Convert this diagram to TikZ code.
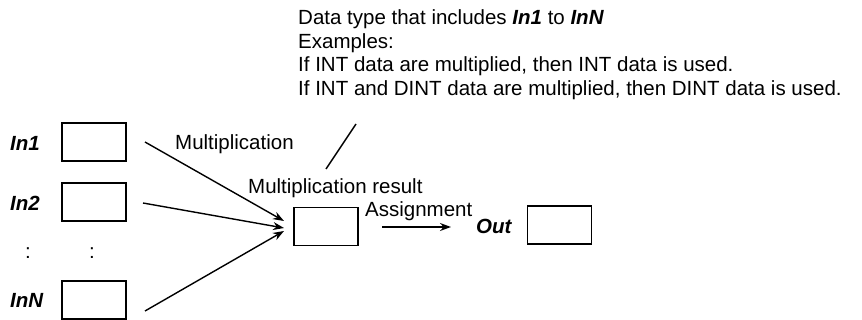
\documentclass[tikz,border=0pt]{standalone}
\usepackage{fontspec}
\setmainfont{Liberation Sans}
\usetikzlibrary{arrows.meta}
\begin{document}
\begin{tikzpicture}[x=1pt,y=-1pt,
  box/.style={draw,line width=1.2pt,minimum width=64pt,minimum height=38pt,inner sep=0pt},
  lbl/.style={anchor=base west,inner sep=0pt,font=\fontsize{20.5}{23.5}\selectfont},
  var/.style={lbl,font=\fontsize{20.5}{23.5}\selectfont\bfseries\itshape},
  arr/.style={line width=1.4pt,-{Stealth[length=11pt,width=8pt]}},
  plain/.style={line width=1.4pt}]
\useasboundingbox (0,0) rectangle (862,320);
% top explanation
\node[lbl] (t1) at (298,25) {Data type that includes \textbf{\textit{In1}} to \textbf{\textit{InN}}};
\node[lbl] (t2) at (298,48.5) {Examples:};
\node[lbl] (t3) at (298,72) {If INT data are multiplied, then INT data is used.};
\node[lbl] (t4) at (298,95.5) {If INT and DINT data are multiplied, then DINT data is used.};
% input labels and boxes
\node[var] (l1) at (10,151) {In1};
\node[var] (l2) at (10,211) {In2};
\node[var] (lN) at (10,308) {InN};
\node[box] (b1) at (94,142) {};
\node[box] (b2) at (94,202) {};
\node[box] (bN) at (94,300) {};
\node[lbl] (c1) at (25,259) {:};
\node[lbl] (c2) at (89,259) {:};
% middle
\node[box] (mid) at (326,226.5) {};
\node[lbl] (mul) at (175,150) {Multiplication};
\node[lbl] (mres) at (248,194) {Multiplication result};
\node[lbl] (asg) at (365,217) {Assignment};
\node[var] (outl) at (476,234) {Out};
\node[box] (out) at (559.5,225) {};
% connector coordinates
\coordinate (s1) at (145,142);
\coordinate (s2) at (143,203);
\coordinate (sN) at (145,311);
\coordinate (e1) at (284,221);
\coordinate (e2) at (284,228);
\coordinate (eN) at (284,231);
\coordinate (as) at (382,227);
\coordinate (ae) at (451,227);
\coordinate (p1) at (326,169);
\coordinate (p2) at (356,124);
\draw[arr] (s1) -- (e1);
\draw[arr] (s2) -- (e2);
\draw[arr] (sN) -- (eN);
\draw[arr] (as) -- (ae);
\draw[plain] (p1) -- (p2);
\end{tikzpicture}
\end{document}
